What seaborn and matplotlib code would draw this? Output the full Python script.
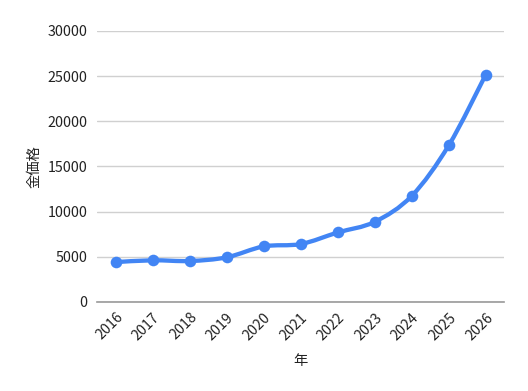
import matplotlib
matplotlib.use("Agg")
import matplotlib.pyplot as plt
from matplotlib.path import Path
from matplotlib.patches import PathPatch
import numpy as np
import pandas as pd
import seaborn as sns

years = ["2016", "2017", "2018", "2019", "2020", "2021", "2022", "2023", "2024", "2025", "2026"]
prices = [4400, 4600, 4520, 4930, 6140, 6400, 7680, 8860, 11730, 17320, 25150]
y_ticks = [0, 5000, 10000, 15000, 20000, 25000, 30000]

sns.set_theme(style="white")
plt.rcParams['font.family'] = ['Noto Sans CJK JP', 'DejaVu Sans']

df = pd.DataFrame({"年": years, "金価格": prices})
df["pos"] = np.arange(len(years))

fig = plt.figure(figsize=(5.28, 3.91), dpi=100)
ax = fig.add_axes([0.184, 0.228, 0.771, 0.693])

blue = "#4285F4"

# smooth curve through the data points (cardinal spline rendered as Bezier path)
xs = df["pos"].to_numpy(dtype=float)
ys = df["金価格"].to_numpy(dtype=float)
k = 0.5 / 3.0
verts = [(xs[0], ys[0])]
codes = [Path.MOVETO]
n = len(xs)
for i in range(n - 1):
    x0, y0 = (xs[i - 1], ys[i - 1]) if i > 0 else (xs[i], ys[i])
    x1, y1 = xs[i], ys[i]
    x2, y2 = xs[i + 1], ys[i + 1]
    x3, y3 = (xs[i + 2], ys[i + 2]) if i + 2 < n else (xs[i + 1], ys[i + 1])
    c1 = (x1 + (x2 - x0) * k, y1 + (y2 - y0) * k)
    c2 = (x2 - (x3 - x1) * k, y2 - (y3 - y1) * k)
    verts += [c1, c2, (x2, y2)]
    codes += [Path.CURVE4] * 3
ax.add_patch(PathPatch(Path(verts, codes), facecolor="none", edgecolor=blue,
                       lw=3.1, capstyle="round", joinstyle="round", zorder=3))

sns.scatterplot(data=df, x="pos", y="金価格", ax=ax, color=blue, s=70,
                edgecolor=blue, linewidth=0, zorder=4, legend=False)

ax.set_xlim(-0.5, len(years) - 0.5)
ax.set_ylim(0, 30000)
ax.set_yticks(y_ticks)
ax.set_yticklabels([str(v) for v in y_ticks])
ax.set_xticks(df["pos"])
ax.set_xticklabels(years, rotation=45, ha="right", rotation_mode="anchor")

ax.grid(axis="y", color="#d0d0d0", lw=1)
ax.grid(axis="x", visible=False)
ax.set_axisbelow(True)
for s in ["top", "right", "left"]:
    ax.spines[s].set_visible(False)
ax.spines["bottom"].set_color("#999999")
ax.spines["bottom"].set_linewidth(1.2)

fs = 10.3
ax.tick_params(axis="both", length=0, labelsize=fs, labelcolor="#222222")
ax.tick_params(axis="y", pad=7)
ax.tick_params(axis="x", pad=6)

ax.set_xlabel("年", fontsize=fs, color="#222222", labelpad=8)
ax.set_ylabel("金価格", fontsize=fs, color="#222222", labelpad=4)

fig.savefig("out.png", dpi=100)
